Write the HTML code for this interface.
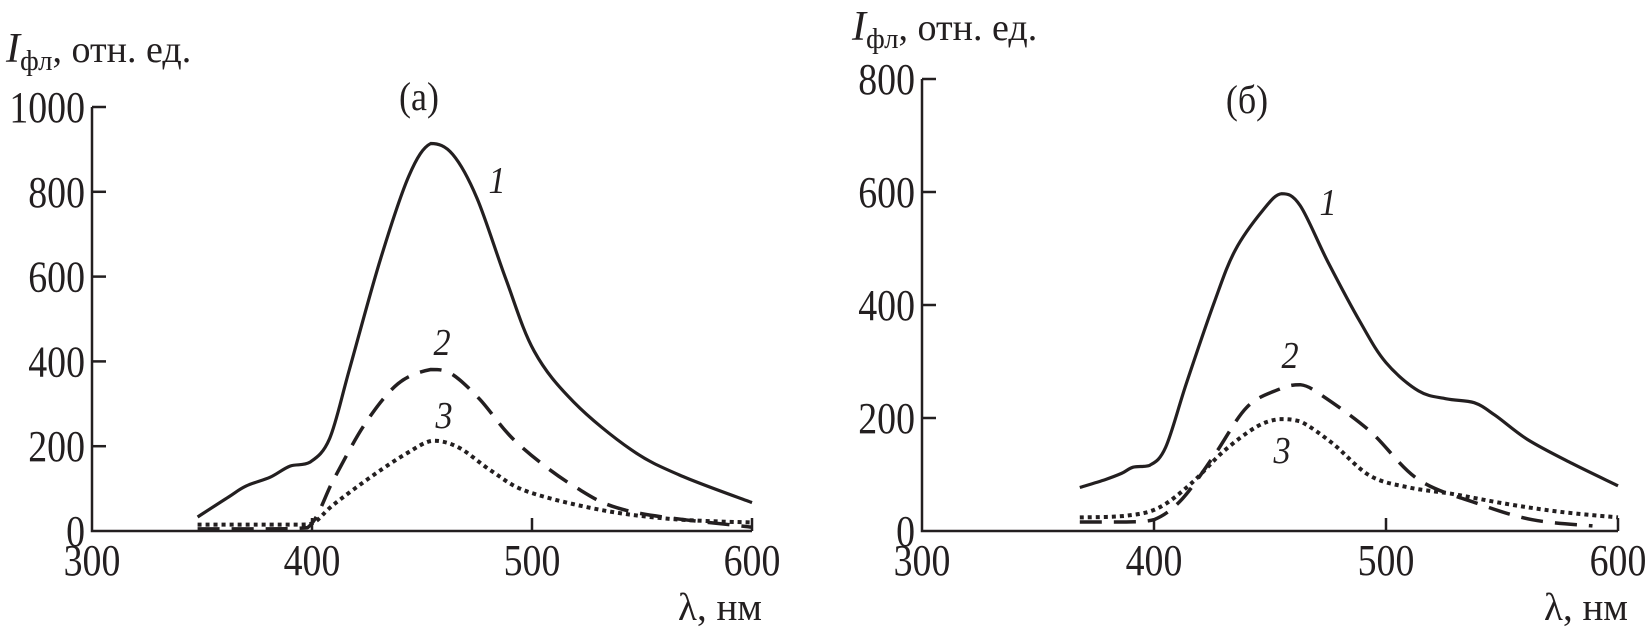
<!DOCTYPE html>
<html><head><meta charset="utf-8">
<style>
html,body{margin:0;padding:0;background:#fff}
svg{display:block}
text{font-family:"Liberation Serif",serif;fill:#231f20}
</style></head>
<body>
<svg id="chart" width="1649" height="632" viewBox="0 0 1649 632" xmlns="http://www.w3.org/2000/svg"></svg>
<script>
// Panel (a) data
const aCurve1X=[348,362,370,381,390,399,408,417,431,444,454,464,475,488,501,519,545,567,600];
const aCurve1Y=[33,80,106,127,153,162,218,381,639,837,914,888,785,596,424,304,192,132,67];
const aCurve2X=[348,380,398,410,424,439,454,463,476,493,519,545,600];
const aCurve2Y=[5,5,8,123,252,347,381,372,312,209,106,46,9];
const aCurve3X=[348,375,395,401,410,428,443,455,467,482,498,531,564,600];
const aCurve3Y=[15,15,15,20,63,132,183,213,196,140,93,50,28,20];
// Panel (б) data
const bCurve1X=[368,379,386,391,398,405,414,426,435,447,455,463,475,489,500,514,526,538,547,561,580,600];
const bCurve1Y=[77,91,102,113,116,148,262,405,497,568,597,576,476,369,298,248,234,227,205,162,120,80];
const bCurve2X=[368,388,400,412,426,440,454,463,472,493,514,540,563,589];
const bCurve2Y=[16,16,20,56,134,219,251,259,241,177,91,48,20,9];
const bCurve3X=[368,388,402,416,430,444,454,463,477,493,510,528,552,575,600];
const bCurve3Y=[24,27,41,84,141,184,198,194,155,98,77,66,48,34,24];
const xTicks=[300,400,500,600];
const aYTicks=[0,200,400,600,800,1000];
const bYTicks=[0,200,400,600,800];

const NS="http://www.w3.org/2000/svg";
const svg=document.getElementById('chart');
function mk(tag,attrs,parent){const e=document.createElementNS(NS,tag);for(const k in attrs)e.setAttribute(k,attrs[k]);(parent||svg).appendChild(e);return e;}
function txt(s,x,y,size,anchor,parent,sxs){
  const t=mk('text',{x:0,y:0,'font-size':size,'text-anchor':anchor||'middle',transform:`translate(${x},${y}) scale(${sxs||1},1)`},parent);
  t.textContent=s;return t;}

function clamp(v,a,b){const lo=Math.min(a,b),hi=Math.max(a,b);return Math.max(lo,Math.min(hi,v));}
function smooth(pts){
  let d='M'+pts[0][0].toFixed(1)+','+pts[0][1].toFixed(1);
  for(let i=0;i<pts.length-1;i++){
    const p0=pts[i-1]||pts[i],p1=pts[i],p2=pts[i+1],p3=pts[i+2]||p2;
    const c1=[p1[0]+(p2[0]-p0[0])/6,clamp(p1[1]+(p2[1]-p0[1])/6,p1[1],p2[1])];
    const c2=[p2[0]-(p3[0]-p1[0])/6,clamp(p2[1]-(p3[1]-p1[1])/6,p1[1],p2[1])];
    d+=' C'+c1[0].toFixed(1)+','+c1[1].toFixed(1)+' '+c2[0].toFixed(1)+','+c2[1].toFixed(1)+' '+p2[0].toFixed(1)+','+p2[1].toFixed(1);
  }
  return d;
}

function panel(cfg){
  const g=mk('g',{});
  
  
  const sx=v=>cfg.x0+(v-300)/300*(cfg.x1-cfg.x0);
  const sy=v=>cfg.y0-(v/cfg.ymax)*(cfg.y0-cfg.y1);
  const ax=mk('path',{d:`M${cfg.x0},${cfg.y1} V${cfg.y0} H${cfg.x1}`,fill:'none',stroke:'#231f20','stroke-width':2.5},g);
  
  
  cfg.yTicks.forEach(v=>{
    const y=sy(v);
    if(v>0)mk('line',{x1:cfg.x0,x2:cfg.x0+14,y1:y,y2:y,stroke:'#231f20','stroke-width':2.5},g);
    const t=txt(String(v),cfg.x0-7,y+15,44,'end',g,0.86);
    
    
  });
  xTicks.forEach(v=>{
    const x=sx(v);
    if(v>300)mk('line',{x1:x,x2:x,y1:cfg.y0,y2:cfg.y0-13,stroke:'#231f20','stroke-width':2.5},g);
    const t=txt(String(v),x,cfg.y0+44,44,'middle',g,0.86);
    
    
  });
  const styles=[{dash:null,w:3.2},{dash:'22 12',w:3.5},{dash:'4 4',w:4}];
  cfg.series.forEach((s,i)=>{
    const pts=s[0].map((x,j)=>[sx(x),sy(s[1][j])]);
    const a={d:smooth(pts),fill:'none',stroke:'#231f20','stroke-width':styles[i].w};
    if(styles[i].dash)a['stroke-dasharray']=styles[i].dash;
    const p=mk('path',a,g);
    
    
  });
  cfg.labels.forEach((l,i)=>{
    const t=txt(String(i+1),l[0],l[1],38,'middle',g,0.9);
    t.setAttribute('font-style','italic');
    
    
  });
  const tt=txt(cfg.title,cfg.title_x,cfg.title_y,40,'middle',g,0.9);
  
  
  const yl=mk('text',{x:cfg.ylx,y:cfg.yly,'font-size':38},g);
  
  
  yl.innerHTML='<tspan font-style="italic" font-size="42">I</tspan><tspan font-size="29" dy="8">фл</tspan><tspan dy="-8">, отн. ед.</tspan>';
  const xl=mk('text',{x:cfg.x1+10,y:cfg.y0+89,'font-size':39,'text-anchor':'end'},g);
  
  
  xl.textContent='λ, нм';
}

panel({name:'panel-a',x0:92,x1:752,y0:531,y1:107,ymax:1000,yTicks:aYTicks,
  series:[[aCurve1X,aCurve1Y],[aCurve2X,aCurve2Y],[aCurve3X,aCurve3Y]],
  labels:[[497,193],[442,355],[444,428]],title:'(а)',title_x:419,title_y:110,ylx:6,yly:62});
panel({name:'panel-b',x0:922,x1:1618,y0:531,y1:79,ymax:800,yTicks:bYTicks,
  series:[[bCurve1X,bCurve1Y],[bCurve2X,bCurve2Y],[bCurve3X,bCurve3Y]],
  labels:[[1328,215],[1290,368],[1282,463]],title:'(б)',title_x:1247,title_y:113,ylx:852,yly:40});
</script>
</body></html>
